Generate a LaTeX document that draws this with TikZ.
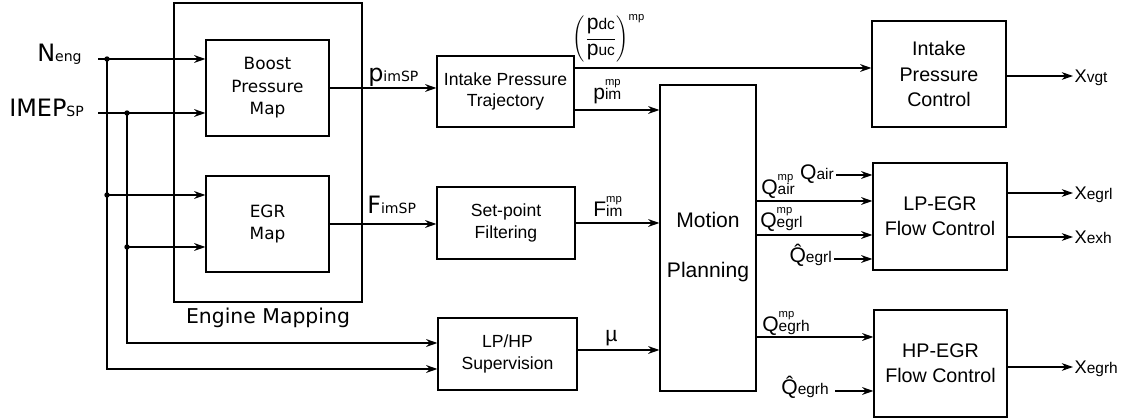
\documentclass[tikz,border=0pt]{standalone}
\usepackage{amsmath}
\usepackage{fontspec}
\setmainfont{Liberation Sans}
\newfontfamily\dejavu{DejaVu Sans}
\usetikzlibrary{arrows.meta,positioning}

% signal names: small index on the base line, optional "mp" above it
\newcommand{\lsub}[2]{#1{\fontsize{11}{12}\selectfont #2}}
\newcommand{\lsig}[3]{#1\rlap{\raisebox{10.5pt}{\fontsize{8}{9}\selectfont #3}}{\fontsize{11}{12}\selectfont #2}}
\newcommand{\dsub}[2]{{\dejavu #1{\fontsize{10}{11}\selectfont #2}}}

\begin{document}
\begin{tikzpicture}[
    x=0.025cm, y=-0.025cm,
    blk/.style={rectangle, draw, line width=0.8pt, inner sep=0pt, align=center},
    mapblk/.style={blk, font=\dejavu\fontsize{12}{16}\selectfont},
    midblk/.style={blk, font=\fontsize{12.5}{15.5}\selectfont},
    ctlblk/.style={blk, font=\fontsize{14}{18}\selectfont},
    wire/.style={line width=0.8pt},
    arr/.style={wire, -{Stealth[length=8pt, width=5.5pt, inset=2.5pt]}},
    sig/.style={inner sep=0pt, font=\fontsize{15}{18}\selectfont},
    insig/.style={inner sep=0pt, font=\fontsize{17}{20}\selectfont},
    outsig/.style={anchor=west, inner sep=1pt, text height=10pt, text depth=1pt, font=\fontsize{13}{15}\selectfont},
    dot/.style={circle, fill, inner sep=0pt, minimum size=3.8pt}
]
    \useasboundingbox (0,0) rectangle (1121,419);

    % --- ENGINE MAPPING ---
    \node[blk, minimum width=4.7cm, minimum height=7.475cm] (engmap) at (268,152.5) {};
    \node[mapblk, minimum width=3.075cm, minimum height=2.4cm] (boost) at (267.5,88) {Boost\\Pressure\\Map};
    \node[mapblk, minimum width=3.075cm, minimum height=2.4cm] (egr) at (267.5,224) {EGR\\Map};
    \node[anchor=base, inner sep=0pt, font=\dejavu\fontsize{14.5}{17}\selectfont] (engmaplbl) at (268,324) {Engine Mapping};

    % --- MIDDLE BLOCKS ---
    \node[midblk, minimum width=3.425cm, minimum height=1.775cm] (ipt) at (505.5,91.5) {Intake Pressure\\Trajectory};
    \node[midblk, minimum width=3.45cm, minimum height=1.8cm] (spf) at (506,223) {Set-point\\Filtering};
    \node[midblk, minimum width=3.475cm, minimum height=1.8cm] (lphp) at (507.5,354) {LP/HP\\Supervision};

    \node[blk, minimum width=2.4cm, minimum height=7.65cm] (mp) at (708,238) {};
    \node[align=center, font=\fontsize{15}{18}\selectfont] (mplbl) at (708,247) {Motion\\[18pt]Planning};

    % --- CONTROLLERS ---
    \node[ctlblk, minimum width=3.35cm, minimum height=2.65cm] (ipc) at (939,74) {Intake\\Pressure\\Control};
    \node[ctlblk, minimum width=3.35cm, minimum height=2.675cm] (lpegr) at (940,216.5) {LP-EGR\\Flow Control};
    \node[ctlblk, minimum width=3.325cm, minimum height=2.675cm] (hpegr) at (940.5,363.5) {HP-EGR\\Flow Control};

    % --- INPUTS AND BRANCHES ---
    \node[insig, anchor=base west] (neng) at (37,62) {\dsub{N}{eng}};
    \node[insig, anchor=base west] (imep) at (9,117) {\dsub{IMEP}{SP}};
    \coordinate (nengin) at (98,59);
    \coordinate (imepin) at (98,113);
    \coordinate (njoin) at (107,59);
    \coordinate (ijoin) at (127,113);
    \coordinate (njoin2) at (107,195);
    \coordinate (ijoin2) at (127,247);
    \coordinate (nbot) at (107,369);
    \coordinate (ibot) at (127,343);

    \draw[arr] (nengin) -- (boost.west |- nengin);
    \draw[arr] (imepin) -- (boost.west |- imepin);
    \draw[arr] (njoin2) -- (egr.west |- njoin2);
    \draw[arr] (ijoin2) -- (egr.west |- ijoin2);
    \draw[arr] (njoin) -- (nbot) -- (lphp.west |- nbot);
    \draw[arr] (ijoin) -- (ibot) -- (lphp.west |- ibot);
    \foreach \c in {njoin,ijoin,njoin2,ijoin2}
        \node[dot] (dot-\c) at (\c) {};

    % --- SET-POINTS ---
    \draw[arr] (boost.east) -- (boost.east -| ipt.west);
    \node[insig, anchor=base west] (pimsp) at (368,82) {\dsub{p}{imSP}};
    \draw[arr] (egr.east) -- (egr.east -| spf.west);
    \node[insig, anchor=base west] (fimsp) at (367,214) {\dsub{F}{imSP}};

    \draw[arr] (ipt.east |- 0,68) -- (ipc.west |- 0,68);
    \node[inner sep=0pt, anchor=base, font=\fontsize{11}{13}\selectfont] (ratio) at (609,43)
        {$\left(\genfrac{}{}{0.6pt}{0}{\hbox{\fontsize{15}{18}\selectfont\rule[-5pt]{0pt}{0pt}\lsub{p}{dc}}}{\hbox{\fontsize{15}{18}\selectfont\rule{0pt}{9.5pt}\lsub{p}{uc}}}\right)^{\hbox{\fontsize{8}{9}\selectfont mp}}$};
    \draw[arr] (ipt.east |- 0,110) -- (mp.west |- 0,110);
    \node[sig, anchor=base west] (pim) at (593,100) {\lsig{p}{im}{mp}};
    \draw[arr] (spf.east) -- (spf.east -| mp.west);
    \node[sig, anchor=base west] (fim) at (593,217) {\lsig{F}{im}{mp}};
    \draw[arr] (lphp.east |- 0,350) -- (mp.west |- 0,350);
    \node[sig, anchor=base west] (mu) at (605,342) {µ};

    % --- TRAJECTORIES TO CONTROLLERS ---
    \draw[arr] (mp.east |- 0,201) -- (lpegr.west |- 0,201);
    \node[sig, anchor=base west] (qairmp) at (761,195) {\lsig{Q}{air}{mp}};
    \draw[arr] (mp.east |- 0,235) -- (lpegr.west |- 0,235);
    \node[sig, anchor=base west] (qegrlmp) at (760,228) {\lsig{Q}{egrl}{mp}};
    \draw[arr] (mp.east |- 0,337) -- (hpegr.west |- 0,337);
    \node[sig, anchor=base west] (qegrhmp) at (762,332) {\lsig{Q}{egrh}{mp}};

    % measured flows
    \node[sig, anchor=base east] (qair) at (834,180) {\lsub{Q}{air}};
    \coordinate (qairin) at (836,175);
    \draw[arr] (qairin) -- (lpegr.west |- qairin);
    \node[sig, anchor=base east] (qhegrl) at (832,263) {\lsub{\^{Q}}{egrl}};
    \coordinate (qhegrlin) at (834,259);
    \draw[arr] (qhegrlin) -- (lpegr.west |- qhegrlin);
    \node[sig, anchor=base east] (qhegrh) at (829,395) {\lsub{\^{Q}}{egrh}};
    \coordinate (qhegrhin) at (835,391);
    \draw[arr] (qhegrhin) -- (hpegr.west |- qhegrhin);

    % --- ACTUATOR OUTPUTS ---
    \node[outsig] (xvgt) at (1073,76) {\lsub{X}{vgt}};
    \draw[arr] (ipc.east |- xvgt.west) -- (xvgt.west);
    \node[outsig] (xegrl) at (1073,193) {\lsub{X}{egrl}};
    \draw[arr] (lpegr.east |- xegrl.west) -- (xegrl.west);
    \node[outsig] (xexh) at (1073,237) {\lsub{X}{exh}};
    \draw[arr] (lpegr.east |- xexh.west) -- (xexh.west);
    \node[outsig] (xegrh) at (1073,367) {\lsub{X}{egrh}};
    \draw[arr] (hpegr.east |- xegrh.west) -- (xegrh.west);
\end{tikzpicture}
\end{document}
